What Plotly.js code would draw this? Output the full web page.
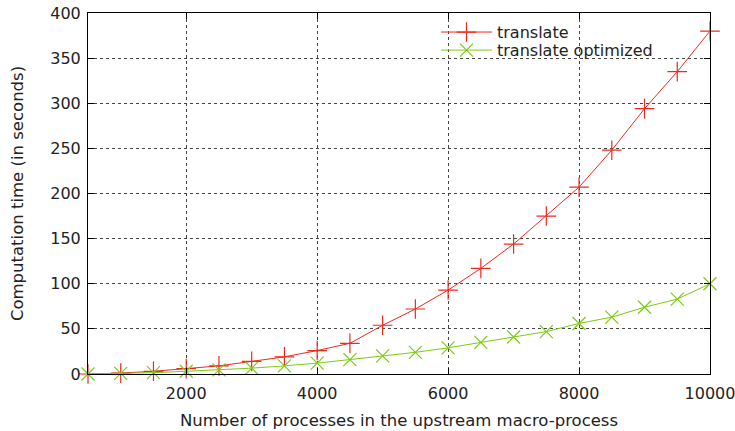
<!DOCTYPE html>
<html>
<head>
<meta charset="utf-8">
<script src="https://cdn.plot.ly/plotly-3.0.1.min.js"></script>
<style>html,body{margin:0;padding:0;background:#fff;}#chart{width:735px;height:431px;}</style>
</head>
<body>
<div id="chart"></div>
<script>
var processes = [500,1000,1500,2000,2500,3000,3500,4000,4500,5000,5500,6000,6500,7000,7500,8000,8500,9000,9500,10000];
var translateTimes = [0,1,3,6,9,14,19,26,34,54,72,93,117,144,175,207,248,294,335,380];
var optimizedTimes = [0,0.7,1.5,3,4.5,6.5,9,12,16,20,24,29,35,41,47,56,63,74,83,100];
var xTicks = [2000,4000,6000,8000,10000];
var xTickText = ['2000','4000','6000','8000','10000'];
var yTicks = [0,50,100,150,200,250,300,350,400];

var redC = '#ee2a1e', greenC = '#7ccc12';
var FONT = 'DejaVu Sans', FS = 16, TXT = '#222';
var traces = [
  {x: processes, y: translateTimes, name: 'translate', mode: 'lines+markers', type: 'scatter',
   legend: 'legend', cliponaxis: false,
   line: {color: redC, width: 1},
   marker: {symbol: 'cross-thin', size: 14, line: {color: redC, width: 1.2}, color: redC}},
  {x: processes, y: optimizedTimes, name: 'translate optimized', mode: 'lines+markers', type: 'scatter',
   legend: 'legend2', cliponaxis: false,
   line: {color: greenC, width: 1},
   marker: {symbol: 'x-thin', size: 13, line: {color: greenC, width: 1.2}, color: greenC}}
];
var axisCommon = {
  showline: true, linecolor: '#000', linewidth: 1, mirror: 'allticks',
  ticks: 'inside', ticklen: 6, tickcolor: '#000', tickwidth: 1,
  showgrid: true, gridcolor: '#444', griddash: 'dot', gridwidth: 1,
  zeroline: false, tickfont: {family: FONT, size: FS, color: TXT}, ticklabeloverflow: 'allow'
};
var legendCommon = {xanchor: 'left', yanchor: 'middle', bgcolor: 'rgba(0,0,0,0)',
  font: {family: FONT, size: FS, color: TXT}, itemwidth: 51};
var layout = {
  width: 735, height: 431,
  margin: {l: 88, r: 25, t: 13, b: 57},
  paper_bgcolor: '#fff', plot_bgcolor: '#fff',
  font: {family: FONT, size: FS, color: TXT},
  xaxis: Object.assign({}, axisCommon, {range: [500, 10000], tickvals: xTicks, ticktext: xTickText,
    ticklabelstandoff: 5,
    title: {text: 'Number of processes in the upstream macro-process', font: {size: 16.5}, standoff: 12}}),
  yaxis: Object.assign({}, axisCommon, {range: [0, 400], tickvals: yTicks,
    ticklabelstandoff: 3,
    title: {text: 'Computation time (in seconds)', font: {size: 16.5}, standoff: 22}}),
  showlegend: true,
  legend: Object.assign({}, legendCommon, {x: 0.5595, y: 0.947}),
  legend2: Object.assign({}, legendCommon, {x: 0.5595, y: 0.897}),
  shapes: [{type: 'rect', xref: 'paper', yref: 'paper', x0: 0.545, x1: 0.93, y0: 0.875, y1: 1,
    fillcolor: '#fff', line: {width: 0}, layer: 'between'}]
};
Plotly.newPlot('chart', traces, layout, {displayModeBar: false, staticPlot: true});
</script>
</body>
</html>
